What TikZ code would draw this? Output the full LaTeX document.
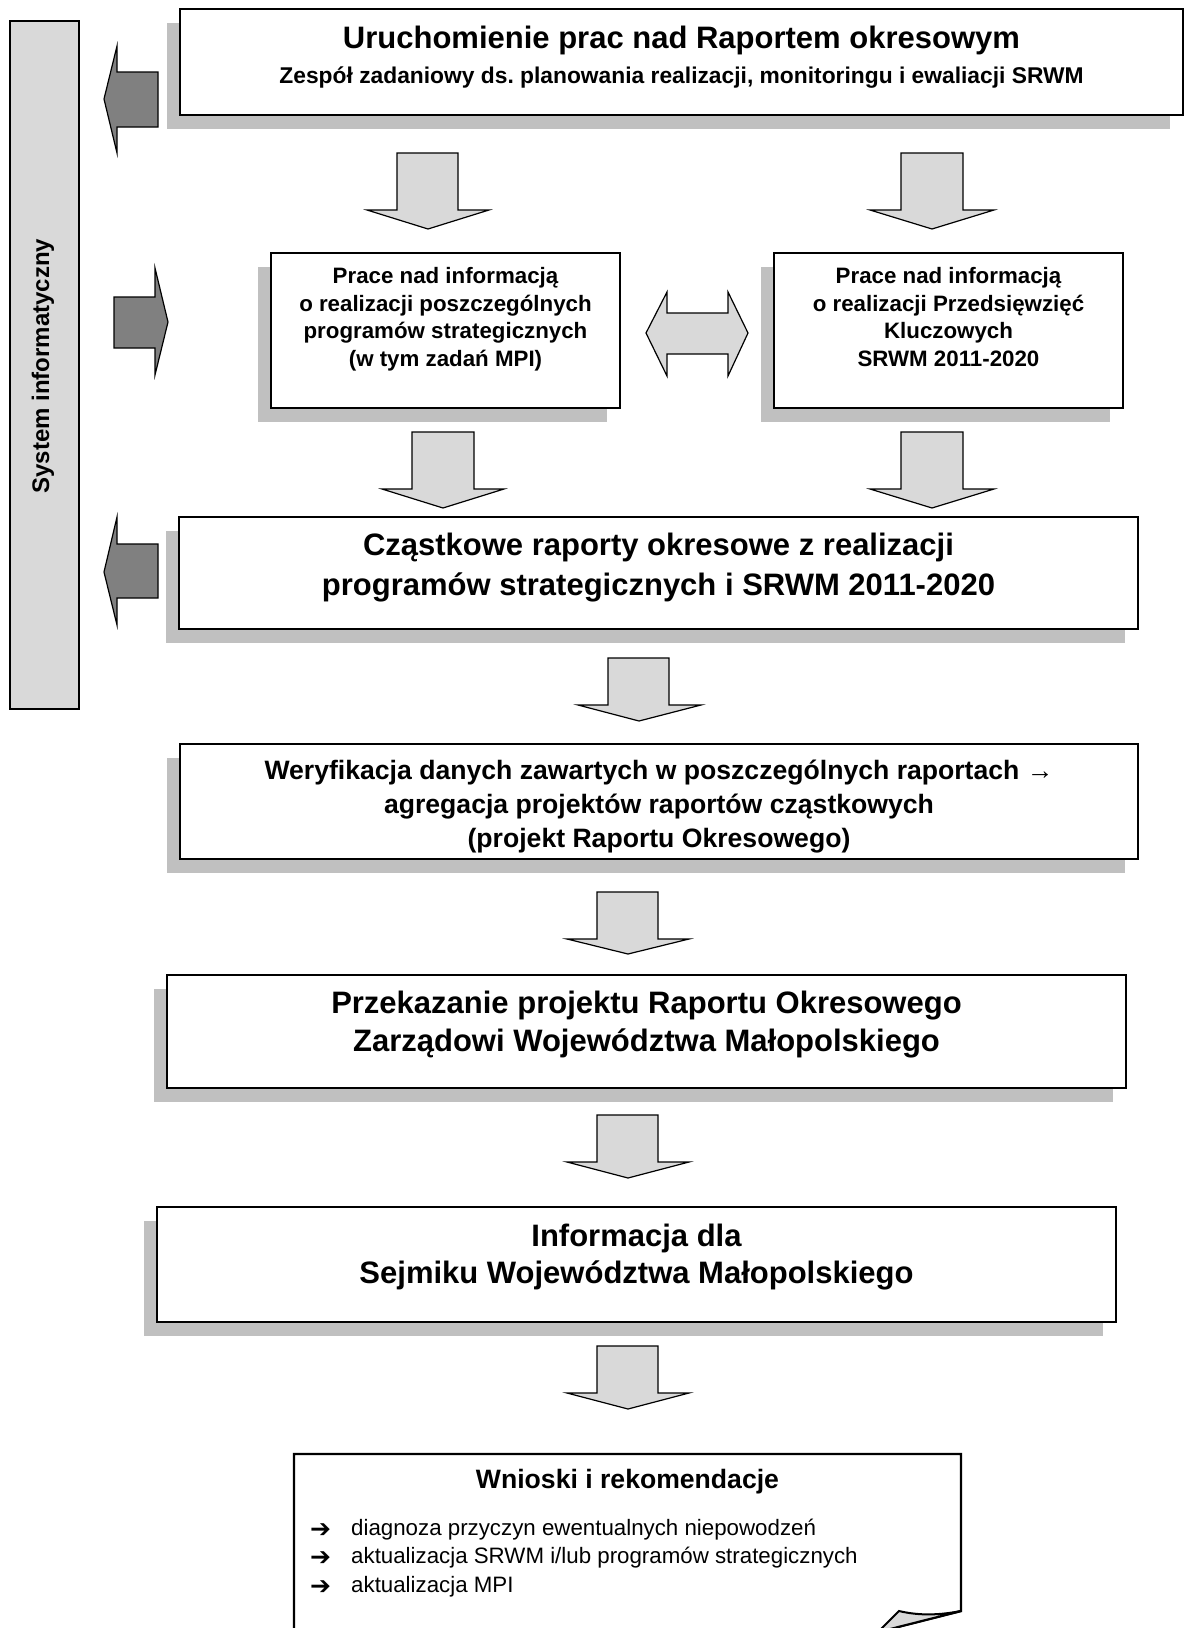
\documentclass[tikz,border=0pt]{standalone}
\usepackage{fontspec}
\setmainfont{Liberation Sans}
\newfontfamily\symfont{DejaVu Sans}
\usetikzlibrary{shadows}
\definecolor{shadowgray}{HTML}{C0C0C0}
\definecolor{lightfill}{HTML}{D9D9D9}
\definecolor{darkfill}{HTML}{808080}
\frenchspacing
\begin{document}
\begin{tikzpicture}[x=1pt,y=-1pt,
  box/.style={draw=black, line width=2.4pt, fill=white, inner sep=0pt,
    general shadow={fill=shadowgray, shadow xshift=-13.5pt, shadow yshift=-14pt}},
  sysbar/.style={draw=black, line width=2pt, fill=lightfill, inner sep=0pt},
  larrow/.style={draw=black, line width=1.2pt, fill=lightfill, line join=miter},
  darrow/.style={draw=black, line width=1.2pt, fill=darkfill, line join=miter},
  tb/.style={inner sep=0pt, anchor=base, font=\bfseries\fontsize{#1pt}{#1pt}\selectfont},
  tr/.style={inner sep=0pt, anchor=base west, font=\fontsize{#1pt}{#1pt}\selectfont},
  sym/.style={inner sep=0pt, anchor=base west, font=\symfont\bfseries\fontsize{#1pt}{#1pt}\selectfont},
]
\useasboundingbox (0,0) rectangle (1188,1628);
\clip (0,0) rectangle (1188,1628);

% ---- side bar
\node[sysbar, minimum width=69pt, minimum height=688pt] (sys) at (44.5,365) {};
\node[rotate=90, inner sep=0pt, font=\bfseries\fontsize{24pt}{24pt}\selectfont] (systxt) at (43,366) {System informatyczny};

% ---- boxes
\node[box, minimum width=1003pt, minimum height=106pt] (top) at (681.5,62) {};
\node[tb=31] (top1) at (681.5,48) {Uruchomienie prac nad Raportem okresowym};
\node[tb=22.8] (top2) at (681.5,83) {Zespół zadaniowy ds. planowania realizacji, monitoringu i ewaliacji SRWM};

\node[box, minimum width=349pt, minimum height=155pt] (midl) at (445.5,330.5) {};
\node[tb=22.3] (midl1) at (445.5,283.5) {Prace nad informacją};
\node[tb=22.3] (midl2) at (445.5,311) {o realizacji poszczególnych};
\node[tb=22.3] (midl3) at (445.5,338.5) {programów strategicznych};
\node[tb=22.3] (midl4) at (445.5,366) {(w tym zadań MPI)};

\node[box, minimum width=349pt, minimum height=155pt] (midr) at (948.5,330.5) {};
\node[tb=22.3] (midr1) at (948.5,283.5) {Prace nad informacją};
\node[tb=22.3] (midr2) at (948.5,311) {o realizacji Przedsięwzięć};
\node[tb=22.3] (midr3) at (948.5,338.5) {Kluczowych};
\node[tb=22.3] (midr4) at (948.5,366) {SRWM 2011-2020};

\node[box, minimum width=959pt, minimum height=112pt] (czas) at (658.5,573) {};
\node[tb=31] (czas1) at (658.5,555.5) {Cząstkowe raporty okresowe z realizacji};
\node[tb=31] (czas2) at (658.5,595) {programów strategicznych i SRWM 2011-2020};

\node[box, minimum width=958pt, minimum height=115pt] (wer) at (659,801.5) {};
\node[tb=26.6] (wer1) at (659,779) {Weryfikacja danych zawartych w poszczególnych raportach →};
\node[tb=26.6] (wer2) at (659,813) {agregacja projektów raportów cząstkowych};
\node[tb=26.6] (wer3) at (659,847) {(projekt Raportu Okresowego)};

\node[box, minimum width=959pt, minimum height=113pt] (prz) at (646.5,1031.5) {};
\node[tb=31] (prz1) at (646.5,1013) {Przekazanie projektu Raportu Okresowego};
\node[tb=31] (prz2) at (646.5,1051) {Zarządowi Województwa Małopolskiego};

\node[box, minimum width=959pt, minimum height=115pt] (inf) at (636.5,1264.5) {};
\node[tb=31] (inf1) at (636.5,1246) {Informacja dla};
\node[tb=31] (inf2) at (636.5,1283) {Sejmiku Województwa Małopolskiego};

% ---- conclusions (page with curled corner)
\draw[line width=2.4pt, fill=white] (294,1660) -- (294,1454) -- (961,1454) -- (961,1611)
  -- (878,1632) -- (860,1660) -- cycle;
\filldraw[fill=lightfill, draw=black, line width=2pt, line join=miter]
  (899,1611) .. controls (920,1616) and (940,1615) .. (961,1611) -- (878,1632) -- cycle;
\node[tb=26.6] (wtitle) at (627.5,1488) {Wnioski i rekomendacje};
\node[sym=25] (wa1) at (310,1537) {➔};
\node[tr=22.3] (w1) at (351,1535) {diagnoza przyczyn ewentualnych niepowodzeń};
\node[sym=25] (wa2) at (310,1565) {➔};
\node[tr=22.3] (w2) at (351,1563) {aktualizacja SRWM i/lub programów strategicznych};
\node[sym=25] (wa3) at (310,1594) {➔};
\node[tr=22.3] (w3) at (351,1592) {aktualizacja MPI};

% ---- dark arrows (to / from system)
\draw[darrow] (158,72) -- (117,72) -- (117,46) -- (104,99) -- (117,153) -- (117,127) -- (158,127) -- cycle;
\draw[darrow] (114,297) -- (155,297) -- (155,268) -- (168,322) -- (155,375) -- (155,348) -- (114,348) -- cycle;
\draw[darrow] (158,544) -- (117,544) -- (117,517) -- (104,572) -- (117,625) -- (117,598) -- (158,598) -- cycle;

% ---- light down arrows
\draw[larrow] (397,153) -- (458,153) -- (458,210) -- (489,210) -- (428,229) -- (367,210) -- (397,210) -- cycle;
\draw[larrow] (901,153) -- (963,153) -- (963,210) -- (994,210) -- (932,229) -- (870,210) -- (901,210) -- cycle;
\draw[larrow] (412,432) -- (474,432) -- (474,489) -- (504,489) -- (443,508) -- (382,489) -- (412,489) -- cycle;
\draw[larrow] (901,432) -- (963,432) -- (963,489) -- (994,489) -- (932,508) -- (870,489) -- (901,489) -- cycle;
\draw[larrow] (608,658) -- (669,658) -- (669,705) -- (701,705) -- (639,721) -- (578,705) -- (608,705) -- cycle;
\draw[larrow] (597,892) -- (658,892) -- (658,939) -- (689,939) -- (628,954) -- (567,939) -- (597,939) -- cycle;
\draw[larrow] (597,1115) -- (658,1115) -- (658,1162) -- (689,1162) -- (628,1178) -- (567,1162) -- (597,1162) -- cycle;
\draw[larrow] (597,1346) -- (658,1346) -- (658,1393) -- (689,1393) -- (628,1409) -- (567,1393) -- (597,1393) -- cycle;

% ---- double arrow
\draw[larrow] (646,333) -- (667,292) -- (667,313) -- (728,313) -- (728,292) -- (748,333)
  -- (728,376) -- (728,354) -- (667,354) -- (667,376) -- cycle;
\end{tikzpicture}
\end{document}
